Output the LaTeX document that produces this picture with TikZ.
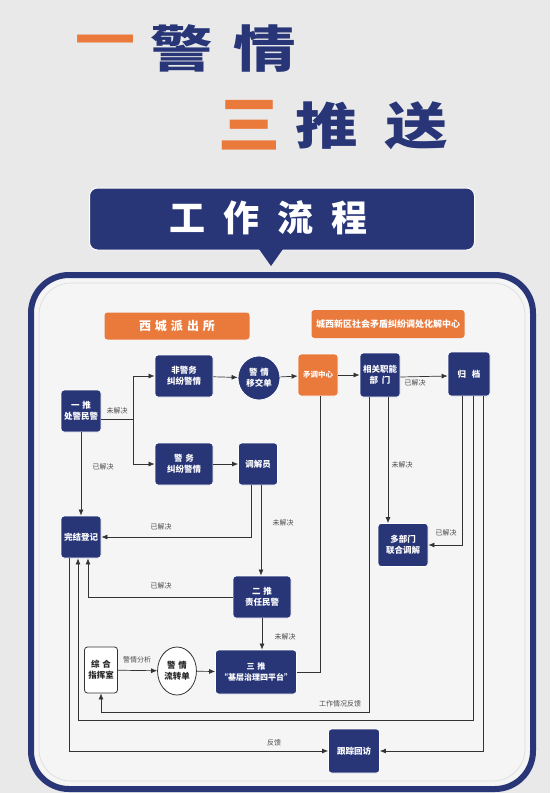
\documentclass[tikz,border=0pt]{standalone}
\usepackage{fontspec}
\usepackage{graphicx}
\newfontfamily\cjk{Noto Sans CJK SC}
\usetikzlibrary{shapes,arrows.meta,positioning,calc,backgrounds}

\definecolor{navy}{RGB}{40,54,120}
\definecolor{flame}{RGB}{234,121,60}
\definecolor{wall}{RGB}{233,233,233}
\definecolor{board}{RGB}{245,245,245}

\begin{document}
\begin{tikzpicture}[x=1pt, y=-1pt,
    block/.style={draw=white, line width=0.8pt, rounded corners=3pt, fill=navy, text=white, align=center, inner sep=1pt, font=\cjk\bfseries\fontsize{8.5}{11}\selectfont},
    hotblock/.style={block, fill=flame},
    plainblock/.style={block, fill=white, draw=black!80, text=black!85},
    ticket/.style={block, ellipse, sharp corners},
    header/.style={rounded corners=3pt, fill=flame, text=white, inner sep=1pt, font=\cjk\bfseries\fontsize{12}{14}\selectfont},
    headline/.style={font=\cjk\bfseries\fontsize{50}{50}\selectfont, inner sep=0pt},
    edge/.style={-{Latex[length=6pt,width=5pt]}, draw=black!80, line width=0.7pt},
    link/.style={draw=black!80, line width=0.7pt},
    note/.style={font=\cjk\fontsize{7}{8}\selectfont, text=black!70, inner sep=1pt},
]

% Wall and board
\fill[wall] (0,0) rectangle (550,793);
\useasboundingbox (0,0) rectangle (550,793);
\draw[navy, line width=6pt, fill=board, rounded corners=38pt] (31,275) rectangle (533,789);
\draw[black!15, line width=0.6pt, rounded corners=32pt] (39,283) rectangle (525,781);

% Title
\node[headline, text=flame] (one) at (105,47) {\scalebox{1.2}[1]{一}};
\node[headline, text=navy] (alarm) at (223,48) {\scalebox{1.25}[1]{警\hspace{16pt}情}};
\node[headline, text=flame, font=\cjk\bfseries\fontsize{62}{62}\selectfont] (three) at (249,125) {三};
\node[headline, text=navy] (pushes) at (372,126) {\scalebox{1.25}[1]{推\hspace{22pt}送}};

% Banner
\node[fill=navy, draw=white, line width=1pt, rounded corners=8pt, minimum width=385pt, minimum height=62pt] (banner) at (282,219) {};
\fill[navy] (259,249) -- (271,266) -- (283,249) -- cycle;
\node[font=\cjk\bfseries\fontsize{36}{36}\selectfont, text=white, inner sep=0pt] (bannertext) at (268,218) {工\hspace{18pt}作\hspace{18pt}流\hspace{18pt}程};

% Headers
\node[header, minimum width=145pt, minimum height=27pt] (station) at (177,326) {西\hspace{4pt}城\hspace{4pt}派\hspace{4pt}出\hspace{4pt}所};
\node[header, minimum width=153pt, minimum height=28pt, font=\cjk\bfseries\fontsize{9}{11}\selectfont] (center) at (388,324) {城西新区社会矛盾纠纷调处化解中心};

% Police side
\node[block, minimum width=40pt, minimum height=42pt] (push1) at (81,411) {一\hspace{3pt}推\\处警民警};
\node[block, minimum width=58pt, minimum height=42pt] (nonpol) at (184,376) {非警务\\纠纷警情};
\node[ticket, minimum width=42pt, minimum height=44pt] (handover) at (259,378) {警\hspace{3pt}情\\移交单};
\node[block, minimum width=58pt, minimum height=42pt] (pol) at (184,464) {警\hspace{3pt}务\\纠纷警情};
\node[block, minimum width=39pt, minimum height=42pt] (mediator) at (258,464) {调解员};
\node[block, minimum width=40pt, minimum height=42pt] (finish) at (81,537) {完结登记};
\node[block, minimum width=58pt, minimum height=42pt] (push2) at (262,597) {二\hspace{3pt}推\\责任民警};

% Mediation centre side
\node[hotblock, minimum width=40pt, minimum height=42pt, font=\cjk\bfseries\fontsize{7.5}{9}\selectfont] (hub) at (318,375) {矛调中心};
\node[block, minimum width=40pt, minimum height=44pt] (dept) at (380,375) {相关职能\\部\hspace{4pt}门};
\node[block, minimum width=42pt, minimum height=44pt] (archive) at (469,374) {归\hspace{6pt}档};
\node[block, minimum width=50pt, minimum height=43pt] (multi) at (403,545) {多部门\\联合调解};

% Command room and third push
\node[plainblock, minimum width=33pt, minimum height=46pt] (command) at (101,670) {综\hspace{3pt}合\\指挥室};
\node[ticket, fill=white, draw=black!80, text=black!85, minimum width=35pt, minimum height=48pt] (flowslip) at (177,671) {警\hspace{3pt}情\\流转单};
\node[block, minimum width=81pt, minimum height=44pt, font=\cjk\bfseries\fontsize{8}{11}\selectfont] (push3) at (256,672) {三\hspace{3pt}推\\“基层治理四平台”};
\node[block, minimum width=51pt, minimum height=44pt] (visit) at (354,751) {跟踪回访};

% First push branches
\coordinate (split) at (133,419);
\draw[link] ([yshift=-8pt]push1.east) -- (split);
\draw[edge] (split) |- (nonpol.west);
\draw[edge] (split) |- (pol.west);
\node[note] (n1) at (117,411) {未解决};
\draw[edge] (push1.south) -- (finish.north);
\node[note] (n2) at (103,467) {已解决};

% Top row
\draw[edge] (nonpol) -- (handover);
\draw[edge] (handover) -- (hub);
\draw[edge] (hub) -- (dept);
\draw[edge] ([yshift=-2pt]dept.east) -- ([yshift=-2pt]archive.west);
\draw[edge] (pol) -- (mediator);
\node[note] (n3) at (415,383) {已解决};

% Mediator and second push
\draw[edge] ([xshift=-7pt]mediator.south) |- (finish.east);
\node[note] (n4) at (161,527) {已解决};
\draw[edge] ([xshift=3pt]mediator.south) -- ([xshift=-1pt]push2.north);
\node[note] (n5) at (283,523) {未解决};
\draw[edge] (push2.west) -| ([xshift=7pt]finish.south);
\node[note] (n6) at (161,586) {已解决};
\draw[edge] (push2.south) -- (push2.south |- push3.north);
\node[note] (n7) at (285,637) {未解决};

% Command room
\draw[edge] (command) -- (flowslip);
\node[note] (n8) at (137,660) {警情分析};
\draw[edge] (flowslip) -- (push3);
\draw[link] (push3.east) -| ([xshift=2pt]hub.south);

% Departments
\coordinate (fbturn) at (369,712);
\draw[edge] ([xshift=-11pt]dept.south) -- (fbturn) -| (command.south);
\node[note] (n9) at (340,704) {工作情况反馈};
\draw[edge] ([xshift=8pt]dept.south) -- ([xshift=-15pt]multi.north);
\node[note] (n10) at (402,465) {未解决};
\draw[edge] ([xshift=-7pt]archive.south) |- (multi.east);
\node[note] (n11) at (446,533) {已解决};

% Archive and follow-up
\coordinate (archturn) at (473,720);
\draw[edge] ([xshift=4pt]archive.south) -- (archturn) -| ([xshift=-3pt]finish.south);
\draw[edge] ([xshift=14pt]archive.south) |- (visit.east);
\draw[edge] ([xshift=-12pt]finish.south) |- (visit.west);
\node[note] (n12) at (274,743) {反馈};

\end{tikzpicture}
\end{document}
